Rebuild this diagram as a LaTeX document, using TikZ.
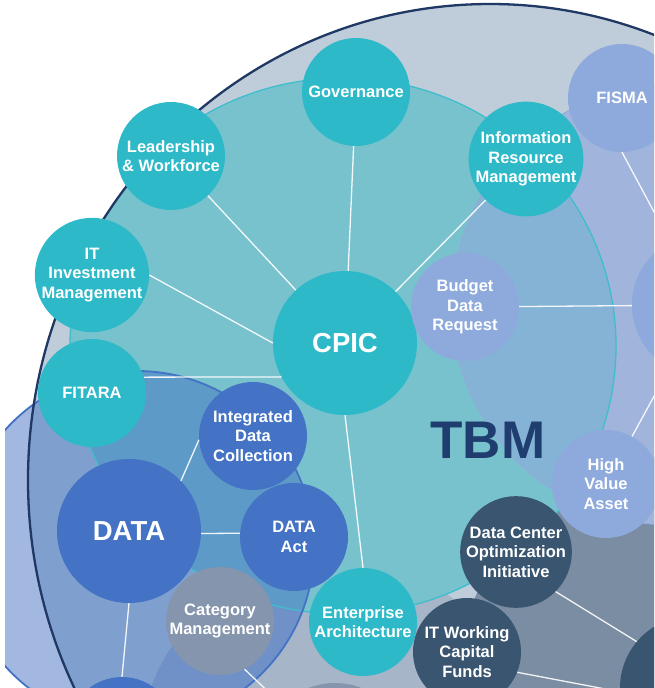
\documentclass[tikz,border=0pt]{standalone}
\usepackage{fontspec}
\setmainfont{Liberation Sans}
\definecolor{cT}{HTML}{BFCDDB}
\definecolor{cK}{HTML}{A6B5C8}
\definecolor{cG}{HTML}{7A8DA2}
\definecolor{cR}{HTML}{A0B4DC}
\definecolor{cC}{HTML}{78C2CE}
\definecolor{cCR}{HTML}{85B3D6}
\definecolor{cDT}{HTML}{7F9FCF}
\definecolor{cDK}{HTML}{7090C8}
\definecolor{cDC}{HTML}{5E9AC8}
\definecolor{cDout}{HTML}{A3B8E0}
\definecolor{cTline}{HTML}{1F3864}
\definecolor{cDline}{HTML}{4472C4}
\definecolor{cCline}{HTML}{40BDCC}
\definecolor{cRline}{HTML}{93AAD9}
\definecolor{nTeal}{HTML}{2EB9C8}
\definecolor{nLav}{HTML}{8EA9DB}
\definecolor{nBlue}{HTML}{4472C4}
\definecolor{nGray}{HTML}{8595AD}
\definecolor{nDark}{HTML}{395570}
\definecolor{cTBM}{HTML}{1F3D6E}
\newcommand\nodefnt{\fontsize{16.5pt}{19.6pt}\selectfont\bfseries}
\newcommand\hubfnt{\fontsize{27.5pt}{30pt}\selectfont\bfseries}
\tikzset{
  nd/.style={circle, minimum size=108pt, inner sep=0pt, align=center, text=white, font=\nodefnt},
  hub/.style={nd, minimum size=144pt, font=\hubfnt},
  ndTeal/.style={nd, fill=nTeal},
  ndLav/.style={nd, fill=nLav},
  ndBlue/.style={nd, fill=nBlue},
  ndGray/.style={nd, fill=nGray},
  ndDark/.style={nd, fill=nDark},
  conn/.style={draw=white, line width=1.3pt, opacity=0.9}
}
\def\pT{(490,480) ellipse [x radius=462pt, y radius=476pt]}
\def\pC{(343,346) ellipse [x radius=273pt, y radius=268pt]}
\def\pR{(672,305) circle [radius=220pt]}
\def\pD{(137,548) circle [radius=177pt]}
\def\pK{(335,755) circle [radius=196pt]}
\def\pG{(692,688) circle [radius=235pt]}
\begin{document}
\begin{tikzpicture}[x=1pt,y=-1pt]
\useasboundingbox (0,0) rectangle (654,688);
\fill[white] (0,0) rectangle (654,688);
\clip (5,0) rectangle (654,688);
% regions
\fill[cDout] \pD;
\begin{scope}
  \clip \pT;
  \fill[cT] \pT;
  \fill[cK] \pK;
  \fill[cG] \pG;
  \fill[cR] \pR;
  \fill[cC] \pC;
  \begin{scope}\clip \pC; \fill[cCR] \pR; \end{scope}
  \begin{scope}\clip \pD; \fill[cDT] \pD; \fill[cDK] \pK; \fill[cDC] \pC; \end{scope}
  \draw[cRline, line width=1pt] \pR;
  \draw[cCline, line width=1.3pt] \pC;
\end{scope}
\draw[cDline, line width=1.8pt] \pD;
\draw[cTline, line width=2.3pt] \pT;
% TBM label
\node[text=cTBM, font=\fontsize{53pt}{53pt}\selectfont\bfseries] (tbm) at (488,440) {TBM};
% nodes
\node[hub, fill=nTeal] (cpic) at (345,343) {CPIC};
\node[ndTeal] (gov) at (356,92) {Governance};
\node[ndTeal] (lead) at (171,156) {Leadership\\\& Workforce};
\node[ndTeal] (itim) at (92,275) {IT\\Investment\\Management};
\node[ndTeal] (fitara) at (92,393) {FITARA};
\node[ndTeal] (irm) at (526,159) {Information\\Resource\\Management};
\node[ndTeal] (ea) at (363,622) {Enterprise\\Architecture};
\node[ndLav] (fisma) at (622,98) {FISMA};
\node[ndLav] (bdr) at (465,307) {Budget\\Data\\Request};
\node[hub, fill=nLav] (hubR) at (704,305) {};
\node[ndLav] (hva) at (606,484) {High\\Value\\Asset};
\node[ndDark] (dcoi) at (516,552) {Data Center\\Optimization\\Initiative};
\node[ndDark] (itwcf) at (467,652) {IT Working\\Capital\\Funds};
\node[hub, fill=nDark] (hubG) at (692,688) {};
\node[hub, fill=nBlue] (data) at (129,531) {DATA};
\node[ndBlue] (idc) at (253,436) {Integrated\\Data\\Collection};
\node[ndBlue] (dact) at (294,537) {DATA\\Act};
\node[ndBlue] (datab) at (122,731) {};
\node[ndGray] (catm) at (220,621) {Category\\Management};
\node[hub, fill=nGray] (hubK) at (335,755) {};
% connectors
\draw[conn] (cpic) -- (gov);
\draw[conn] (cpic) -- (lead);
\draw[conn] (itim.east) -- (cpic.west);
\draw[conn] (fitara.17) -- (cpic.208);
\draw[conn] (cpic) -- (irm);
\draw[conn] (cpic.south) -- (ea.north);
\draw[conn] (bdr) -- (hubR);
\draw[conn] (fisma.south) -- (hubR);
\draw[conn] (hva) -- (hubR);
\draw[conn] (dcoi.-45) -- (hubG.140);
\draw[conn] (itwcf.-22) -- (hubG.183);
\draw[conn] (data.44) -- (idc.184);
\draw[conn] (data.-2) -- (dact.176);
\draw[conn] (data.south) -- (datab.north);
\draw[conn] (catm.-63) -- (hubK);
\end{tikzpicture}
\end{document}
